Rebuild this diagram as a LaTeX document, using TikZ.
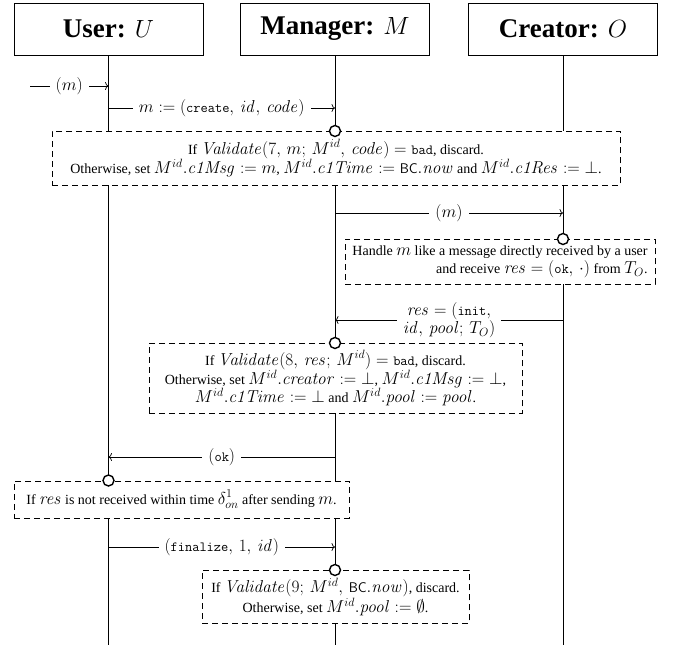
\documentclass[tikz,border=0pt]{standalone}
\usepackage[no-math]{fontspec}
\setmainfont{Liberation Serif}
\DeclareMathSizes{14}{16.5}{13}{10}
\usetikzlibrary{positioning,arrows.meta}

\begin{document}
\begin{tikzpicture}[x=1pt,y=-1pt,
    actor/.style={draw,line width=1pt,minimum width=189pt,minimum height=52pt,inner sep=0,font=\fontsize{27}{30}\selectfont\bfseries},
    note/.style={draw,dash pattern=on 6pt off 4pt,line width=0.7pt,fill=white,inner sep=0,anchor=north,align=center,font=\fontsize{14}{18}\selectfont},
    dot/.style={circle,draw,line width=1.4pt,fill=white,minimum size=11pt,inner sep=0},
    lifeline/.style={line width=0.8pt},
    msg/.style={-{To[length=3.5pt,width=8pt]},line width=0.7pt},
    lbl/.style={fill=white,inner xsep=6pt,inner ysep=1pt,align=center,font=\fontsize{14}{15}\selectfont}]
    \useasboundingbox (0,0) rectangle (677,645);
    % participants
    \node[actor] (user) at (108.5,29) {User: $U$};
    \node[actor] (manager) at (335,29) {Manager: $M$};
    \node[actor] (creator) at (563,29) {Creator: $O$};
    \foreach \who in {user,manager,creator}{
        \coordinate (\who-end) at (\who.south |- 0,645);
        \draw[lifeline] (\who.south) -- (\who-end);
    }
    % points on the lifelines
    \coordinate (env) at (30,86);
    \coordinate (u1) at (user |- 0,86);
    \coordinate (u2) at (user |- 0,108);
    \coordinate (m2) at (manager |- 0,108);
    \coordinate (m3) at (manager |- 0,213);
    \coordinate (o3) at (creator |- 0,213);
    \coordinate (o4) at (creator |- 0,320);
    \coordinate (m4) at (manager |- 0,320);
    \coordinate (m5) at (manager |- 0,457);
    \coordinate (u5) at (user |- 0,457);
    \coordinate (u6) at (user |- 0,547);
    \coordinate (m6) at (manager |- 0,547);
    % messages
    \draw[msg] (env) -- node[lbl] {$(m)$} (u1);
    \draw[msg] (u2) -- node[lbl] {$m := (\texttt{create},\, \mathit{id},\, \mathit{code})$} (m2);
    \draw[msg] (m3) -- node[lbl] {$(m)$} (o3);
    \draw[msg] (o4) -- node[lbl] {$\mathit{res} = (\texttt{init},$\\$\mathit{id},\, \mathit{pool};\, T_O)$} (m4);
    \draw[msg] (m5) -- node[lbl] {$(\texttt{ok})$} (u5);
    \draw[msg] (u6) -- node[lbl] {$(\texttt{finalize},\, 1,\, \mathit{id})$} (m6);
    % checks
    \node[note,minimum width=568pt,minimum height=54pt] (n1) at (336,131)
        {If $\mathit{Validate}(7,\, m;\, M^{id},\, \mathit{code}) = \texttt{bad}$, discard.\\
         Otherwise, set $M^{id}.\mathit{c1Msg} := m$, $M^{id}.\mathit{c1Time} := \textsf{BC}.\mathit{now}$ and $M^{id}.\mathit{c1Res} := \bot$.};
    \node[note,align=right,minimum width=310pt,minimum height=45pt] (n2) at (500,239)
        {Handle $m$ like a message directly received by a user\\
         and receive $\mathit{res} = (\texttt{ok},\, \cdot)$ from $T_O$.};
    \node[note,minimum width=373pt,minimum height=70pt] (n3) at (335.5,343)
        {If $\mathit{Validate}(8,\, \mathit{res};\, M^{id}) = \texttt{bad}$, discard.\\
         Otherwise, set $M^{id}.\mathit{creator} := \bot$, $M^{id}.\mathit{c1Msg} := \bot$,\\
         $M^{id}.\mathit{c1Time} := \bot$ and $M^{id}.\mathit{pool} := \mathit{pool}$.};
    \node[note,minimum width=335pt,minimum height=37pt] (n4) at (181.5,480.5)
        {If $\mathit{res}$ is not received within time $\delta^{1}_{on}$ after sending $m$.};
    \node[note,minimum width=267pt,minimum height=53pt] (n5) at (335.5,570)
        {If $\mathit{Validate}(9;\, M^{id},\, \textsf{BC}.\mathit{now})$, discard.\\
         Otherwise, set $M^{id}.\mathit{pool} := \emptyset$.};
    \node[dot] (d1) at (n1.north -| manager) {};
    \node[dot] (d2) at (n2.north -| creator) {};
    \node[dot] (d3) at (n3.north -| manager) {};
    \node[dot] (d4) at (n4.north -| user) {};
    \node[dot] (d5) at (n5.north -| manager) {};
\end{tikzpicture}
\end{document}
